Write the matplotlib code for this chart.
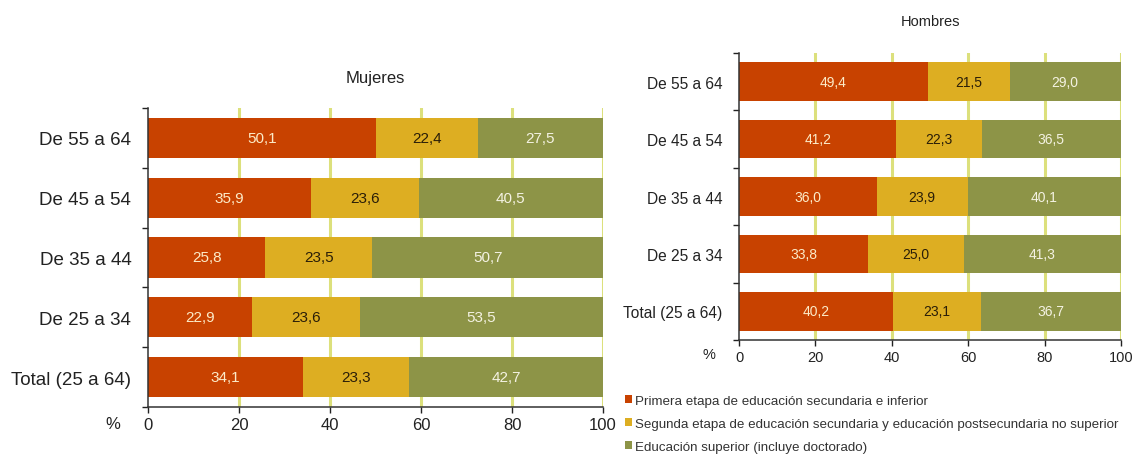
import matplotlib
matplotlib.use("Agg")
import matplotlib.pyplot as plt
from matplotlib.patches import Patch

plt.rcParams['font.family'] = ['Liberation Sans', 'DejaVu Sans']

grupos = ["De 55 a 64", "De 45 a 54", "De 35 a 44", "De 25 a 34", "Total (25 a 64)"]
series = ["Primera etapa de educación secundaria e inferior",
          "Segunda etapa de educación secundaria y educación postsecundaria no superior",
          "Educación superior (incluye doctorado)"]

# mujeres: primera etapa / segunda etapa / superior
muj_primera = [50.1, 35.9, 25.8, 22.9, 34.1]
muj_segunda = [22.4, 23.6, 23.5, 23.6, 23.3]
muj_superior = [27.5, 40.5, 50.7, 53.5, 42.7]

# hombres
hom_primera = [49.4, 41.2, 36.0, 33.8, 40.2]
hom_segunda = [21.5, 22.3, 23.9, 25.0, 23.1]
hom_superior = [29.0, 36.5, 40.1, 41.3, 36.7]

colores = ['#C84200', '#DDAE22', '#8D9447']
txt_col = ['#FCEBC8', '#2A1E08', '#F4F2E2']
grid_col = '#DCE07C'
W, H = 1134, 460


def panel(ax, datos, titulo, fs_tick, fs_ylab, fs_val, fs_title, title_pad):
    y = list(range(len(grupos)))
    left = [0.0] * len(grupos)
    for vals, c, tc in zip(datos, colores, txt_col):
        bars = ax.barh(y, vals, left=left, height=0.67, color=c, zorder=2)
        for b, v in zip(bars, vals):
            ax.text(b.get_x() + b.get_width() / 2, b.get_y() + b.get_height() / 2,
                    f"{v:.1f}".replace('.', ','), ha='center', va='center',
                    color=tc, fontsize=fs_val, zorder=3)
        left = [l + v for l, v in zip(left, vals)]
    ax.set_xlim(0, 100)
    ax.set_ylim(len(grupos) - 0.5, -0.5)
    ax.set_xticks([0, 20, 40, 60, 80, 100])
    ax.tick_params(axis='x', labelsize=fs_tick, length=4, width=1, colors='#222222', pad=3)
    ax.set_yticks(y)
    ax.set_yticklabels(grupos, fontsize=fs_ylab, color='#222222')
    ax.tick_params(axis='y', which='major', length=0, pad=12)
    ax.set_yticks([i - 0.5 for i in range(len(grupos) + 1)], minor=True)
    ax.tick_params(axis='y', which='minor', length=4, width=1, color='#222222')
    ax.xaxis.grid(True, color=grid_col, linewidth=2.2)
    ax.get_xgridlines()[0].set_visible(False)
    ax.set_axisbelow(True)
    for s in ['top', 'right']:
        ax.spines[s].set_visible(False)
    for s in ['left', 'bottom']:
        ax.spines[s].set_color('#333333')
        ax.spines[s].set_linewidth(1.1)
    ax.set_title(titulo, fontsize=fs_title, color='#222222', pad=title_pad)


fig = plt.figure(figsize=(W / 100, H / 100), dpi=100)
ax1 = fig.add_axes([148 / W, 1 - 408 / H, 455 / W, 299 / H])
ax2 = fig.add_axes([739 / W, 1 - 341 / H, 382 / W, 287 / H])

panel(ax1, [muj_primera, muj_segunda, muj_superior], "Mujeres", 12, 13.5, 11, 12, 19)
panel(ax2, [hom_primera, hom_segunda, hom_superior], "Hombres", 10.5, 11.2, 10, 10.5, 20)

fig.text(113 / W, 1 - 425 / H, '%', ha='center', va='center', fontsize=12, color='#222222')
fig.text(709 / W, 1 - 355 / H, '%', ha='center', va='center', fontsize=10.5, color='#222222')

handles = [Patch(facecolor=c) for c in colores]
fig.legend(handles, series, loc='upper left', bbox_to_anchor=(625 / W, 1 - 396 / H),
           frameon=False, fontsize=9.6, handlelength=0.55, handleheight=0.55,
           handletextpad=0.2, labelspacing=0.82, borderpad=0, borderaxespad=0,
           labelcolor='#333333')

fig.savefig('out.png', dpi=100)
